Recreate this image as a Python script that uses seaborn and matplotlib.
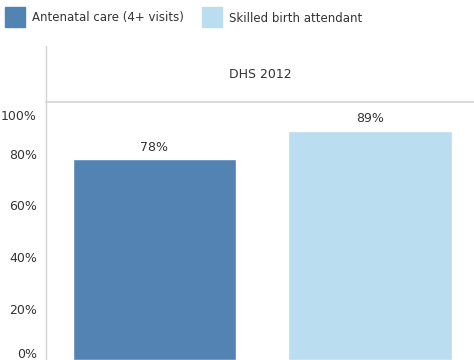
import matplotlib
matplotlib.use("Agg")
import matplotlib.pyplot as plt
import matplotlib.transforms as mtransforms
from matplotlib.patches import Rectangle
import seaborn as sns
import pandas as pd

measures = ["Antenatal care (4+ visits)", "Skilled birth attendant"]
values = [0.78, 0.89]
survey = "DHS 2012"
colors = ["#5383B3", "#BADDF0"]
yticks = [0, 0.2, 0.4, 0.6, 0.8, 1.0]
ytick_labels = ["0%", "20%", "40%", "60%", "80%", "100%"]

sns.set_theme(style="white")
plt.rcParams["font.family"] = ["DejaVu Sans"]

df = pd.DataFrame({"measure": measures, "value": values})

W, H = 474, 360
fig = plt.figure(figsize=(W / 100, H / 100), dpi=100)

grey = "#D4D4D4"
ax = fig.add_axes([46 / W, 0, 428 / W, (H - 102.5) / H])
sns.barplot(data=df, x="measure", y="value", hue="measure", palette=colors,
            order=measures, hue_order=measures, width=0.76, dodge=False,
            legend=False, ax=ax, saturation=1)
ax.set_xlim(-0.503, 1.483)
ax.set_ylim(0, 1.0)
ax.set_xlabel("")
ax.set_ylabel("")
ax.set_xticks([])
ax.set_yticks(yticks)
ax.set_yticklabels(ytick_labels, fontsize=9, color="#333333")
ax.tick_params(axis="y", length=4.5, width=0.8, color=grey, pad=2)
for s in ["top", "right", "bottom"]:
    ax.spines[s].set_visible(False)
ax.spines["left"].set_color(grey)
ax.spines["left"].set_linewidth(1)

labels = ax.get_yticklabels()
labels[0].set_transform(labels[0].get_transform() +
                        mtransforms.ScaledTranslation(0, 7 / 100, fig.dpi_scale_trans))
labels[-1].set_transform(labels[-1].get_transform() +
                         mtransforms.ScaledTranslation(0, -12 / 100, fig.dpi_scale_trans))

for c in ax.containers:
    ax.bar_label(c, labels=[f"{v*100:.0f}%" for v in c.datavalues],
                 padding=4, fontsize=9, color="#333333")

# header facet box
hax = fig.add_axes([46 / W, (H - 102) / H, 428 / W, (102 - 46) / H])
hax.set_xticks([])
hax.set_yticks([])
hax.set_facecolor("none")
for s in ["top", "right"]:
    hax.spines[s].set_visible(False)
hax.spines["left"].set_color(grey)
hax.spines["bottom"].set_color(grey)
hax.spines["left"].set_linewidth(1)
hax.spines["bottom"].set_linewidth(1.2)
hax.text(0.5, 0.5, survey, ha="center", va="center", fontsize=9, color="#333333",
         transform=hax.transAxes)

# legend
lx = [5, 202]
for x0, m, col in zip(lx, measures, colors):
    fig.patches.append(Rectangle((x0 / W, 1 - 27 / H), 20 / W, 20 / H,
                                 transform=fig.transFigure, color=col))
    fig.text((x0 + 27) / W, 1 - 18 / H, m, ha="left", va="center",
             fontsize=8.5, color="#333333")

fig.savefig("out.png", dpi=100)
